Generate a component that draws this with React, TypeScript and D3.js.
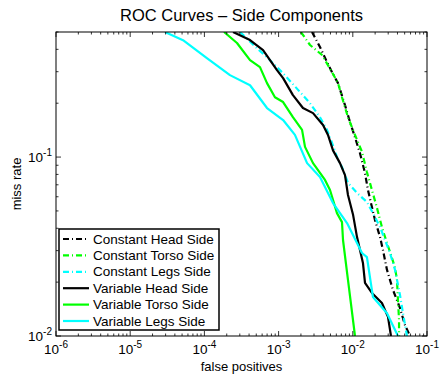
import React from 'react'
import { scaleLog, line, range } from 'd3'

// ROC data: false positives (x) vs miss rate (y)
const constHeadFp = [2.82e-3, 3.61e-3, 4.49e-3, 5.25e-3, 6.32e-3, 7.85e-3, 9.17e-3, 0.0107, 0.0125, 0.0146, 0.016, 0.0181, 0.0199, 0.0233, 0.0255, 0.0289, 0.0348, 0.0433, 0.0505, 0.059]
const constHeadMr = [0.5, 0.412, 0.34, 0.298, 0.259, 0.195, 0.157, 0.129, 0.105, 0.0814, 0.0655, 0.0526, 0.0445, 0.0357, 0.0302, 0.0234, 0.0181, 0.0143, 0.0115, 0.01]

const constTorsoFp = [2.0e-3, 2.65e-3, 3.85e-3, 5.25e-3, 6.32e-3, 7.15e-3, 8.61e-3, 0.0107, 0.0133, 0.0155, 0.0181, 0.0212, 0.0247, 0.028, 0.0327, 0.0371, 0.0394, 0.0406, 0.042, 0.042]
const constTorsoMr = [0.5, 0.423, 0.372, 0.298, 0.259, 0.216, 0.167, 0.133, 0.107, 0.0824, 0.0655, 0.0519, 0.0406, 0.0344, 0.0284, 0.024, 0.0206, 0.0159, 0.0123, 0.01]

const constLegsFp = [3.02e-4, 5.11e-4, 7.66e-4, 1.11e-3, 1.52e-3, 1.94e-3, 2.65e-3, 3.61e-3, 4.49e-3, 5.25e-3, 6.32e-3, 7.15e-3, 8.61e-3, 0.0114, 0.0155, 0.0187, 0.0233, 0.0272, 0.0317, 0.0371, 0.0433, 0.0475, 0.0537]
const constLegsMr = [0.5, 0.406, 0.348, 0.298, 0.259, 0.231, 0.2, 0.167, 0.142, 0.12, 0.0962, 0.0879, 0.0717, 0.063, 0.0561, 0.0486, 0.0406, 0.0344, 0.0291, 0.0234, 0.0169, 0.0134, 0.01]

const varHeadFp = [2.43e-4, 4.12e-4, 6.17e-4, 7.66e-4, 9.51e-4, 1.15e-3, 1.56e-3, 2.13e-3, 2.91e-3, 3.97e-3, 4.63e-3, 5.41e-3, 6.72e-3, 7.85e-3, 8.61e-3, 0.0101, 0.0114, 0.0125, 0.0137, 0.0146, 0.0181, 0.0247, 0.0298, 0.0327]
const varHeadMr = [0.5, 0.451, 0.396, 0.348, 0.306, 0.276, 0.222, 0.188, 0.176, 0.151, 0.133, 0.109, 0.0925, 0.0793, 0.0614, 0.0474, 0.0357, 0.0302, 0.0256, 0.0198, 0.0174, 0.0153, 0.0128, 0.01]

const varTorsoFp = [1.84e-4, 2.75e-4, 4.12e-4, 5.61e-4, 6.98e-4, 8.93e-4, 1.15e-3, 1.56e-3, 2.07e-3, 2.27e-3, 2.91e-3, 4.22e-3, 4.93e-3, 6.12e-3, 7.15e-3, 7.38e-3, 8.61e-3, 0.0107]
const varTorsoMr = [0.5, 0.434, 0.348, 0.318, 0.259, 0.216, 0.203, 0.167, 0.142, 0.114, 0.0925, 0.0745, 0.0655, 0.0486, 0.0433, 0.0344, 0.0206, 0.01]

const varLegsFp = [2.94e-5, 5.15e-5, 1.08e-4, 2.21e-4, 4.12e-4, 6.98e-4, 1.15e-3, 1.66e-3, 2.42e-3, 3.61e-3, 5.41e-3, 8.36e-3, 0.0133, 0.0155, 0.0187, 0.0289, 0.0406]
const varLegsMr = [0.5, 0.45, 0.357, 0.287, 0.252, 0.188, 0.161, 0.133, 0.0925, 0.0773, 0.0553, 0.0428, 0.0291, 0.0276, 0.0165, 0.0134, 0.01]

const seriesNames = ['Constant Head Side', 'Constant Torso Side', 'Constant Legs Side', 'Variable Head Side', 'Variable Torso Side', 'Variable Legs Side']
const xTickExps = [-6, -5, -4, -3, -2, -1]
const yTickExps = [-2, -1]

const W = 443
const H = 376
const m = { left: 56, right: 16, top: 32, bottom: 40 }
const font = '"Liberation Sans", Arial, Helvetica, sans-serif'

export default function App() {
  const x = scaleLog().domain([1e-6, 1e-1]).range([m.left, W - m.right])
  const y = scaleLog().domain([0.01, 0.5]).range([H - m.bottom, m.top])
  const x0 = m.left, x1 = W - m.right, y0 = m.top, y1 = H - m.bottom

  const series = [
    { fp: constHeadFp, mr: constHeadMr, color: '#000000', dash: '6,3,1,3' },
    { fp: constTorsoFp, mr: constTorsoMr, color: '#00ff00', dash: '6,3,1,3' },
    { fp: constLegsFp, mr: constLegsMr, color: '#00ffff', dash: '6,3,1,3' },
    { fp: varHeadFp, mr: varHeadMr, color: '#000000', dash: null },
    { fp: varTorsoFp, mr: varTorsoMr, color: '#00ff00', dash: null },
    { fp: varLegsFp, mr: varLegsMr, color: '#00ffff', dash: null },
  ].map((s, i) => ({ ...s, name: seriesNames[i] }))

  const gen = line<[number, number]>().x(d => x(d[0])).y(d => y(d[1]))

  // minor ticks
  const xMinor: number[] = []
  xTickExps.slice(0, -1).forEach(e => range(2, 10).forEach(k => xMinor.push(k * Math.pow(10, e))))
  const yMinor: number[] = []
  range(2, 10).forEach(k => yMinor.push(k * 0.01))
  range(2, 6).forEach(k => yMinor.push(k * 0.1))

  const lx = 59, ly = 229, lw = 160, lh = 101, rowH = 16.4

  return (
    <svg width={W} height={H} style={{ position: 'absolute', left: 0, top: 0 }} fontFamily={font}>
      <rect width={W} height={H} fill="#fff" />
      <defs>
        <clipPath id="plot"><rect x={x0} y={y0} width={x1 - x0} height={y1 - y0} /></clipPath>
      </defs>
      <text x={(x0 + x1) / 2} y={21} textAnchor="middle" fontSize={16.5}>ROC Curves – Side Components</text>

      <g clipPath="url(#plot)">
        {series.map(s => (
          <path key={s.name} d={gen(s.fp.map((v, i) => [v, s.mr[i]] as [number, number])) || ''}
            fill="none" stroke={s.color} strokeWidth={2.2} strokeDasharray={s.dash || undefined} strokeLinejoin="round" />
        ))}
      </g>

      {/* ticks, inside, all four sides */}
      <g stroke="#000" strokeWidth={0.8}>
        {xTickExps.map(e => {
          const px = x(Math.pow(10, e))
          return <g key={'xt' + e}><line x1={px} x2={px} y1={y1} y2={y1 - 5} /><line x1={px} x2={px} y1={y0} y2={y0 + 5} /></g>
        })}
        {xMinor.map(v => {
          const px = x(v)
          return <g key={'xm' + v}><line x1={px} x2={px} y1={y1} y2={y1 - 2.5} /><line x1={px} x2={px} y1={y0} y2={y0 + 2.5} /></g>
        })}
        {yTickExps.map(e => {
          const py = y(Math.pow(10, e))
          return <g key={'yt' + e}><line x1={x0} x2={x0 + 5} y1={py} y2={py} /><line x1={x1} x2={x1 - 5} y1={py} y2={py} /></g>
        })}
        {yMinor.map(v => {
          const py = y(v)
          return <g key={'ym' + v}><line x1={x0} x2={x0 + 2.5} y1={py} y2={py} /><line x1={x1} x2={x1 - 2.5} y1={py} y2={py} /></g>
        })}
      </g>
      <rect x={x0} y={y0} width={x1 - x0} height={y1 - y0} fill="none" stroke="#000" strokeWidth={1} />

      {/* tick labels */}
      {xTickExps.map(e => (
        <text key={'xl' + e} x={x(Math.pow(10, e))} y={y1 + 18} textAnchor="middle" fontSize={13.5}>
          10<tspan dy={-6} fontSize={10}>{'-' + Math.abs(e)}</tspan>
        </text>
      ))}
      {yTickExps.map(e => (
        <text key={'yl' + e} x={x0 - 4} y={y(Math.pow(10, e)) + 5} textAnchor="end" fontSize={13.5}>
          10<tspan dy={-6} fontSize={10}>{'-' + Math.abs(e)}</tspan>
        </text>
      ))}

      <text x={(x0 + x1) / 2} y={H - 5} textAnchor="middle" fontSize={13}>false positives</text>
      <text transform={`translate(21,${(y0 + y1) / 2}) rotate(-90)`} textAnchor="middle" fontSize={13}>miss rate</text>

      {/* legend */}
      <rect x={lx} y={ly} width={lw} height={lh} fill="#fff" stroke="#000" strokeWidth={1.5} />
      {series.map((s, i) => {
        const cy = ly + 10 + i * rowH
        return (
          <g key={'lg' + s.name}>
            <line x1={lx + 4} x2={lx + 30} y1={cy} y2={cy} stroke={s.color} strokeWidth={2.2} strokeDasharray={s.dash || undefined} />
            <text x={lx + 34} y={cy + 4.5} fontSize={13.5}>{s.name}</text>
          </g>
        )
      })}
    </svg>
  )
}
